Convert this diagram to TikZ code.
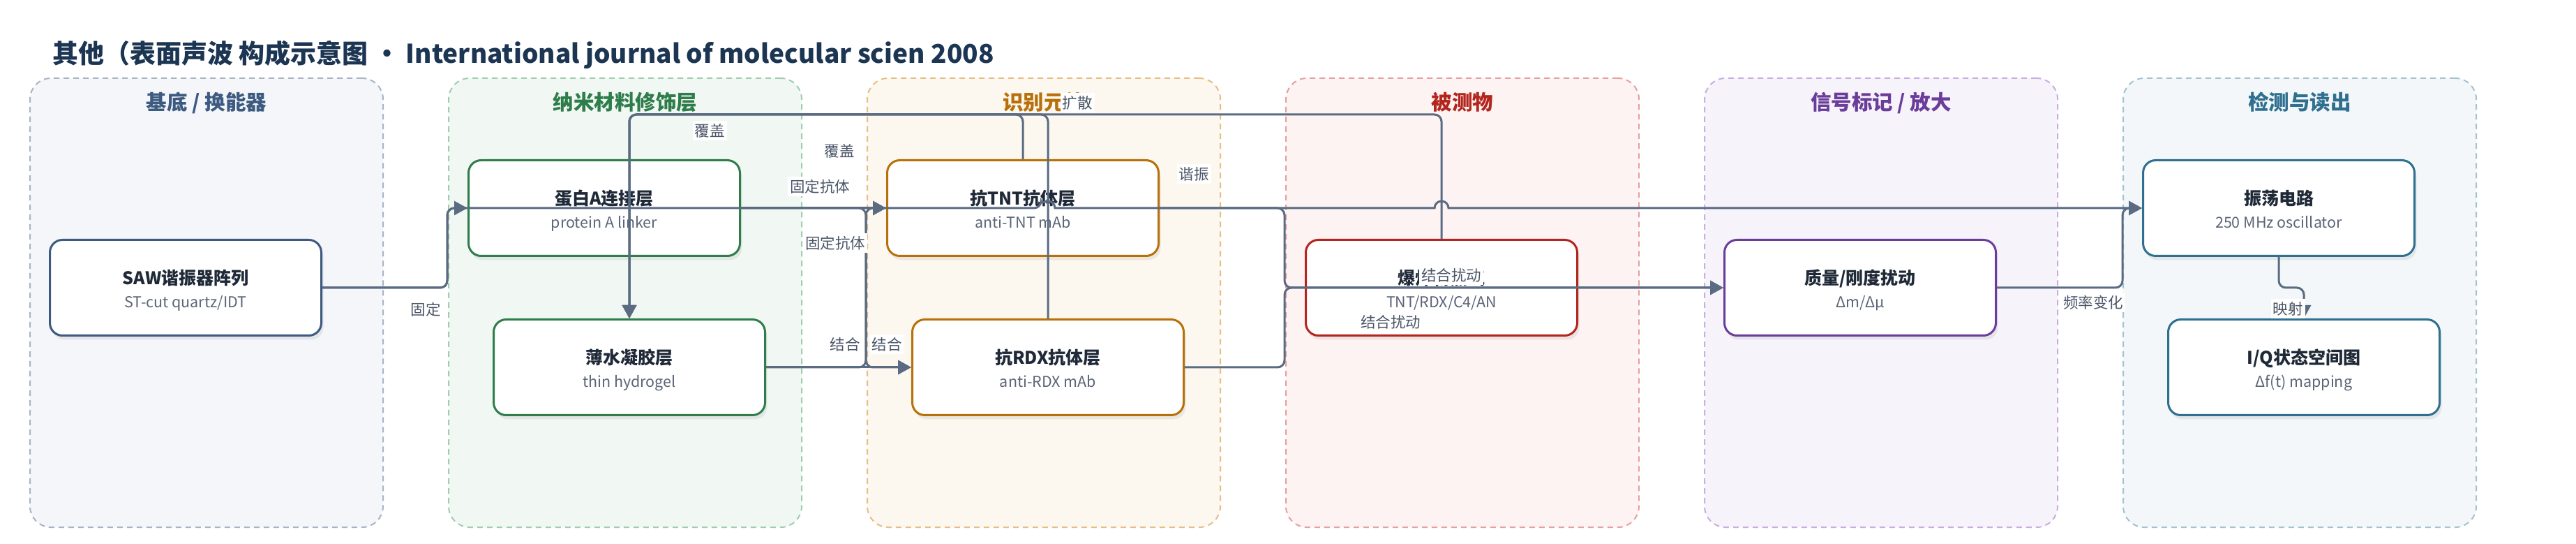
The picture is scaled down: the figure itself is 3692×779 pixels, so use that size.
\documentclass[tikz,border=0pt]{standalone}
\usepackage{fontspec}
\setmainfont{Noto Sans CJK SC}
\usetikzlibrary{arrows.meta,shadows}

\definecolor{edgec}{HTML}{5A6B82}
\definecolor{lblc}{HTML}{4A5568}
\definecolor{ttlc}{HTML}{1F2937}
\definecolor{subc}{HTML}{5B6576}
\definecolor{headc}{HTML}{1C3553}
\definecolor{gAfill}{HTML}{F4F6FA}\definecolor{gAdash}{HTML}{A7B4C6}\definecolor{gAtext}{HTML}{3D5A80}
\definecolor{gBfill}{HTML}{F1F8F3}\definecolor{gBdash}{HTML}{9FCDAF}\definecolor{gBtext}{HTML}{2E7D4A}
\definecolor{gCfill}{HTML}{FDF8EF}\definecolor{gCdash}{HTML}{E6BD85}\definecolor{gCtext}{HTML}{B8700A}
\definecolor{gDfill}{HTML}{FDF3F2}\definecolor{gDdash}{HTML}{E5A0A0}\definecolor{gDtext}{HTML}{B3261E}
\definecolor{gEfill}{HTML}{F7F3FB}\definecolor{gEdash}{HTML}{C8ADE2}\definecolor{gEtext}{HTML}{6A3D9A}
\definecolor{gFfill}{HTML}{F3F7F9}\definecolor{gFdash}{HTML}{A3C3D1}\definecolor{gFtext}{HTML}{2F6F8F}

\tikzset{
  grp/.style n args={2}{fill=#1, draw=#2, dash pattern=on 4pt off 3pt, line width=1pt,
    rounded corners=15pt, minimum width=253pt, minimum height=321.5pt, inner sep=0pt},
  gtitle/.style={font=\fontsize{14.75pt}{17pt}\selectfont\bfseries, text=#1, inner sep=0pt,
    text height=13pt, text depth=1.8pt},
  box/.style={draw=#1, fill=white, line width=1.5pt, rounded corners=9pt,
    minimum width=194.5pt, minimum height=68.5pt, inner sep=0pt,
    drop shadow={shadow xshift=1.5pt, shadow yshift=-3pt, opacity=0.14}},
  ttl/.style={font=\fontsize{12.5pt}{15pt}\selectfont\bfseries, text=ttlc, inner sep=0pt,
    text height=11pt, text depth=1.5pt},
  sub/.style={font=\fontsize{10.75pt}{13pt}\selectfont, text=subc, inner sep=0pt,
    text height=9.5pt, text depth=1.3pt},
  lbl/.style={fill=white, inner sep=1.5pt, font=\fontsize{10.75pt}{13pt}\selectfont, text=lblc,
    text height=9.5pt, text depth=1.3pt},
  edge/.style={draw=edgec, line width=1.5pt, rounded corners=5pt},
  arr/.style={-{Triangle[length=9.5pt,width=10pt]}},
}

\newcommand\mynode[6]{%
  \node[box=#2] (#1) at (#3,#4) {};
  \node[ttl] (#1-t) at ([yshift=7pt]#1.center) {#5};
  \node[sub] (#1-s) at ([yshift=-10pt]#1.center) {#6};
}

\begin{document}
\begin{tikzpicture}[x=0.5pt,y=-0.5pt]
\useasboundingbox (0,0) rectangle (3692,779);
\fill[white] (0,0) rectangle (3692,779);

% title
\node[anchor=west, font=\fontsize{18.5pt}{22pt}\selectfont\bfseries, text=headc, inner sep=0pt]
  (title) at (75,78) {其他（表面声波 构成示意图 • International journal of molecular scien 2008};

% groups
\node[grp={gAfill}{gAdash}] (gA) at (296,433.5) {};
\node[grp={gBfill}{gBdash}] (gB) at (896,433.5) {};
\node[grp={gCfill}{gCdash}] (gC) at (1496,433.5) {};
\node[grp={gDfill}{gDdash}] (gD) at (2096,433.5) {};
\node[grp={gEfill}{gEdash}] (gE) at (2696,433.5) {};
\node[grp={gFfill}{gFdash}] (gF) at (3296,433.5) {};

\node[gtitle=gAtext] (gAt) at (296,146) {基底 / 换能器};
\node[gtitle=gBtext] (gBt) at (896,146) {纳米材料修饰层};
\node[gtitle=gCtext] (gCt) at (1496,146) {识别元件};
\node[gtitle=gDtext] (gDt) at (2096,146) {被测物};
\node[gtitle=gEtext] (gEt) at (2696,146) {信号标记 / 放大};
\node[gtitle=gFtext] (gFt) at (3296,146) {检测与读出};

% nodes
\mynode{saw}{gAtext}{266}{412}{SAW谐振器阵列}{ST-cut quartz/IDT}
\mynode{protA}{gBtext}{866}{298}{蛋白A连接层}{protein A linker}
\mynode{hydro}{gBtext}{902}{526}{薄水凝胶层}{thin hydrogel}
\mynode{tnt}{gCtext}{1466}{298}{抗TNT抗体层}{anti-TNT mAb}
\mynode{rdx}{gCtext}{1502}{526}{抗RDX抗体层}{anti-RDX mAb}
\mynode{expl}{gDtext}{2066}{412}{爆炸物蒸气}{TNT/RDX/C4/AN}
\mynode{mass}{gEtext}{2666}{412}{质量/刚度扰动}{Δm/Δμ}
\mynode{osc}{gFtext}{3266}{298}{振荡电路}{250 MHz oscillator}
\mynode{iq}{gFtext}{3302}{526}{I/Q状态空间图}{Δf(t) mapping}

% edges
\draw[edge,arr] (saw.east) -- (641,412) -- (641,298) -- (protA.west);
\draw[edge,arr] (saw.east) -- (641,412) -- (641,298) -- (1492,298)
  [sharp corners] arc[start angle=180,end angle=0,radius=5pt] -- (2056,298)
  arc[start angle=180,end angle=0,radius=5pt] -- (osc.west);
\draw[edge,arr] (protA.east) -- (tnt.west);
\draw[edge,arr] (protA.east) -- (1241,298) -- (1241,526) -- (rdx.west);
\draw[edge,arr] (hydro.east) -- (1241,526) -- (1241,298) -- (tnt.west);
\draw[edge,arr] (hydro.east) -- (rdx.west);
\draw[edge,arr] (expl.north) -- (2066,164) -- (902,164) -- (hydro.north);
\draw[edge,arr] (tnt.north) -- (1466,164) -- (902,164) -- (hydro.north);
\draw[edge,arr] (rdx.north) -- (1502,164) -- (902,164) -- (hydro.north);
\draw[edge,arr] (tnt.east) -- (1841,298) -- (1841,412) -- (mass.west);
\draw[edge,arr] (rdx.east) -- (1841,526) -- (1841,412) -- (mass.west);
\draw[edge,arr] (mass.east) -- (3042,412) -- (3042,298) -- (osc.west);
\draw[edge,arr] (osc.south) -- (3266,412) -- (3302,412) -- (iq.north);

% edge labels
\node[lbl] (l1) at (610,443) {固定};
\node[lbl] (l2) at (1711,249) {谐振};
\node[lbl] (l3) at (1175,267) {固定抗体};
\node[lbl] (l4) at (1197,348) {固定抗体};
\node[lbl] (l5) at (1211,493) {结合};
\node[lbl] (l6) at (1271,493) {结合};
\node[lbl] (l7) at (1544,147) {扩散};
\node[lbl] (l8) at (1017,187) {覆盖};
\node[lbl] (l9) at (1203,216) {覆盖};
\node[lbl] (l10) at (2080,394) {结合扰动};
\node[lbl] (l11) at (1993,461) {结合扰动};
\node[lbl] (l12) at (3000,433) {频率变化};
\node[lbl] (l13) at (3279,442) {映射};
\end{tikzpicture}
\end{document}
